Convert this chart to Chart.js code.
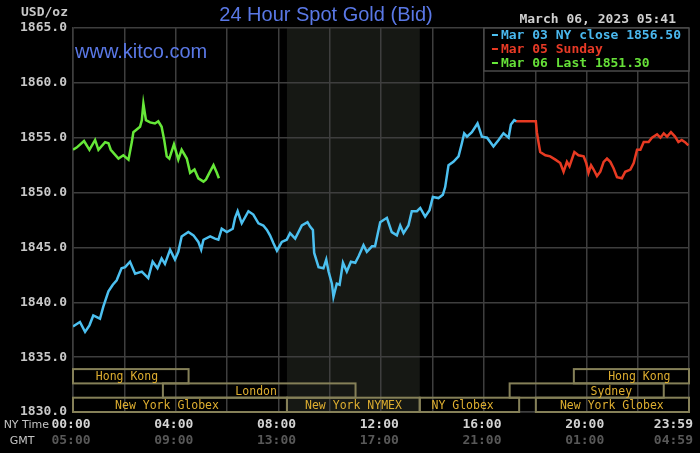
<!DOCTYPE html>
<html>
<head>
<meta charset="utf-8">
<script src="https://cdn.jsdelivr.net/npm/chart.js@4.4.0/dist/chart.umd.min.js"></script>
<style>
html, body { margin: 0; padding: 0; background: #000; }
canvas { display: block; }
</style>
</head>
<body>
<canvas id="chart" width="700" height="453"></canvas>
<script>
// all times are New York hours after midnight
const closeTimes = [0, 0.27, 0.47, 0.64, 0.79, 1.05, 1.18, 1.38, 1.55, 1.7, 1.89, 2.03, 2.22, 2.42, 2.68, 2.93, 3.1, 3.29, 3.45, 3.58, 3.78, 3.97, 4.1, 4.23, 4.49, 4.69, 4.88, 4.99, 5.08, 5.34, 5.53, 5.66, 5.79, 5.99, 6.22, 6.31, 6.41, 6.57, 6.83, 7.02, 7.22, 7.41, 7.55, 7.67, 7.8, 7.94, 8.13, 8.32, 8.45, 8.65, 8.91, 9.13, 9.23, 9.34, 9.39, 9.56, 9.75, 9.86, 9.95, 10.08, 10.14, 10.27, 10.38, 10.51, 10.66, 10.82, 10.99, 11.12, 11.31, 11.44, 11.64, 11.76, 11.96, 12.22, 12.41, 12.61, 12.74, 12.87, 13.06, 13.19, 13.39, 13.52, 13.71, 13.88, 14.01, 14.23, 14.4, 14.49, 14.62, 14.81, 15.01, 15.14, 15.23, 15.34, 15.53, 15.75, 15.92, 16.12, 16.37, 16.57, 16.76, 16.96, 17.05, 17.18, 17.26];
const closeValues = [1837.8, 1838.2, 1837.3, 1837.9, 1838.8, 1838.5, 1839.6, 1841.0, 1841.6, 1842.0, 1843.1, 1843.2, 1843.7, 1842.6, 1842.8, 1842.2, 1843.7, 1843.1, 1844.0, 1843.5, 1844.8, 1843.9, 1844.6, 1846.0, 1846.4, 1846.1, 1845.5, 1844.8, 1845.7, 1846.0, 1845.8, 1845.7, 1846.7, 1846.4, 1846.7, 1847.7, 1848.3, 1847.2, 1848.3, 1848.0, 1847.2, 1847.0, 1846.6, 1846.1, 1845.4, 1844.7, 1845.5, 1845.7, 1846.3, 1845.8, 1847.0, 1847.3, 1846.9, 1846.6, 1844.5, 1843.2, 1843.1, 1843.9, 1842.8, 1841.7, 1840.5, 1841.7, 1841.6, 1843.6, 1842.8, 1843.7, 1843.6, 1844.2, 1845.2, 1844.6, 1845.1, 1845.1, 1847.3, 1847.7, 1846.4, 1846.1, 1847.0, 1846.3, 1847.0, 1848.3, 1848.3, 1848.6, 1847.8, 1848.4, 1849.6, 1849.5, 1849.8, 1850.5, 1852.5, 1852.8, 1853.3, 1854.5, 1855.4, 1855.1, 1855.5, 1856.3, 1855.1, 1855.0, 1854.2, 1854.8, 1855.4, 1855.0, 1856.2, 1856.6, 1856.5];

const sundayTimes = [17.23, 18.02, 18.06, 18.13, 18.19, 18.39, 18.58, 18.78, 18.97, 19.1, 19.23, 19.33, 19.52, 19.68, 19.88, 19.98, 20.07, 20.17, 20.27, 20.4, 20.53, 20.66, 20.79, 20.92, 21.05, 21.18, 21.37, 21.5, 21.7, 21.83, 21.96, 22.09, 22.22, 22.41, 22.54, 22.74, 22.87, 23.0, 23.13, 23.28, 23.44, 23.57, 23.7, 23.83, 23.96];
const sundayValues = [1856.5, 1856.5, 1855.5, 1854.5, 1853.7, 1853.4, 1853.3, 1853.0, 1852.7, 1851.9, 1852.8, 1852.4, 1853.7, 1853.4, 1853.3, 1852.7, 1851.8, 1852.5, 1852.1, 1851.5, 1851.9, 1852.8, 1853.1, 1852.8, 1852.2, 1851.4, 1851.3, 1851.9, 1852.1, 1852.7, 1853.9, 1853.9, 1854.6, 1854.6, 1855.0, 1855.3, 1855.0, 1855.4, 1855.1, 1855.5, 1855.1, 1854.6, 1854.8, 1854.6, 1854.3];

const lastTimes = [0, 0.14, 0.43, 0.64, 0.86, 0.99, 1.25, 1.38, 1.47, 1.77, 1.96, 2.16, 2.29, 2.35, 2.61, 2.68, 2.74, 2.84, 3.0, 3.19, 3.32, 3.45, 3.55, 3.65, 3.75, 3.93, 4.1, 4.23, 4.43, 4.56, 4.73, 4.88, 5.08, 5.18, 5.31, 5.47, 5.6, 5.68];
const lastValues = [1853.9, 1854.1, 1854.7, 1853.9, 1854.8, 1853.9, 1854.6, 1854.5, 1853.9, 1853.1, 1853.4, 1853.0, 1854.6, 1855.5, 1856.0, 1856.6, 1858.1, 1856.6, 1856.4, 1856.3, 1856.5, 1856.0, 1854.8, 1853.3, 1853.1, 1854.4, 1853.0, 1853.9, 1853.1, 1851.8, 1852.1, 1851.3, 1851.0, 1851.2, 1851.8, 1852.5, 1851.8, 1851.3];

const seriesNames = ['Mar 03 NY close 1856.50', 'Mar 05 Sunday', 'Mar 06 Last 1851.30'];

const gridHours = [0, 2, 4, 6, 8, 10, 12, 14, 16, 18, 20, 22, 23.983];
const labelHours = [0, 4, 8, 12, 16, 20, 23.983];
const nyLabels = ['00:00', '04:00', '08:00', '12:00', '16:00', '20:00', '23:59'];
const gmtLabels = ['05:00', '09:00', '13:00', '17:00', '21:00', '01:00', '04:59'];

const sessionNames = ['Hong Kong', 'London', 'New York Globex', 'New York NYMEX', 'NY Globex', 'Hong Kong', 'Sydney', 'New York Globex'];
const sessionStart = [0, 3.5, 0, 8.33, 13.5, 19.5, 17, 18.02];
const sessionEnd = [4.5, 11, 8.33, 13.5, 17.37, 23.983, 23, 23.983];
const sessionRow = [0, 1, 2, 2, 2, 0, 1, 2];
const sessionLabelAt = [2.1, 7.13, 3.66, 10.92, 15.17, 22.05, 20.96, 20.98];

const pitStart = 8.33, pitEnd = 13.5;

const MONO = '"DejaVu Sans Mono", "Liberation Mono", monospace';

function pts(xs, ys) {
    return xs.map((x, i) => ({ x: x, y: ys[i] }));
}

const decor = {
    id: 'decor',
    beforeDraw(chart) {
        const ctx = chart.ctx, a = chart.chartArea, x = chart.scales.x;
        ctx.save();
        ctx.fillStyle = '#000';
        ctx.fillRect(0, 0, chart.width, chart.height);
        ctx.fillStyle = '#161814';
        const x1 = x.getPixelForValue(pitStart), x2 = x.getPixelForValue(pitEnd);
        ctx.fillRect(x1, a.top, x2 - x1, a.bottom - a.top);
        ctx.restore();
    },
    afterDatasetsDraw(chart) {
        const ctx = chart.ctx, a = chart.chartArea, x = chart.scales.x;
        ctx.save();
        // trading sessions
        const rowH = 14.3;
        const top0 = a.bottom - rowH * 3;
        ctx.lineWidth = 2;
        ctx.strokeStyle = '#858058';
        ctx.font = '11.5px ' + MONO;
        ctx.textAlign = 'center';
        ctx.textBaseline = 'middle';
        for (let i = 0; i < sessionNames.length; i++) {
            const l = x.getPixelForValue(sessionStart[i]);
            const r = x.getPixelForValue(sessionEnd[i]);
            const t = top0 + sessionRow[i] * rowH;
            ctx.strokeRect(l, t, r - l, rowH);
        }
        ctx.fillStyle = '#deae30';
        for (let i = 0; i < sessionNames.length; i++) {
            const t = top0 + sessionRow[i] * rowH;
            ctx.fillText(sessionNames[i], x.getPixelForValue(sessionLabelAt[i]), t + rowH / 2 + 1);
        }

        // legend box
        const lx = x.getPixelForValue(16);
        ctx.fillStyle = '#000';
        ctx.fillRect(lx, a.top, a.right - lx, 43);
        ctx.strokeStyle = '#4a4a4a';
        ctx.lineWidth = 1.5;
        ctx.strokeRect(lx, a.top, a.right - lx, 43);
        ctx.font = 'bold 13px ' + MONO;
        ctx.textAlign = 'left';
        chart.data.datasets.forEach((ds, i) => {
            const y = a.top + 7 + i * 14;
            ctx.fillStyle = ds.borderColor;
            ctx.fillRect(lx + 8, y - 1, 6, 2);
            ctx.fillStyle = ds.legendColor;
            ctx.fillText(ds.label, lx + 17, y + 1);
        });
        ctx.restore();
    },
    afterDraw(chart) {
        const ctx = chart.ctx, x = chart.scales.x;
        ctx.save();
        ctx.textBaseline = 'middle';
        // time labels, NY and GMT
        ctx.font = 'bold 13px ' + MONO;
        ctx.textAlign = 'center';
        for (let i = 0; i < labelHours.length; i++) {
            let px = x.getPixelForValue(labelHours[i]);
            const w = ctx.measureText(nyLabels[i]).width;
            if (px + w / 2 > chart.width - 5) px = chart.width - 5 - w / 2;
            ctx.fillStyle = '#d4d4d4';
            ctx.fillText(nyLabels[i], px - 2, 425);
            ctx.fillStyle = '#585858';
            ctx.fillText(gmtLabels[i], px - 2, 441);
        }
        ctx.font = '11px "DejaVu Sans", sans-serif';
        ctx.fillStyle = '#c4c4c4';
        ctx.textAlign = 'right';
        ctx.fillText('NY Time', 49, 425);
        ctx.textAlign = 'center';
        ctx.fillText('GMT', 22, 441);

        ctx.font = 'bold 13px ' + MONO;
        ctx.fillStyle = '#c8c8c8';
        ctx.textAlign = 'right';
        ctx.fillText('USD/oz', 68, 13);
        ctx.fillStyle = '#d0d0d0';
        ctx.fillText('March 06, 2023 05:41', 676, 20);

        ctx.font = '20px "Liberation Sans", Arial, sans-serif';
        ctx.fillStyle = '#5a78e6';
        ctx.textAlign = 'center';
        ctx.fillText('24 Hour Spot Gold (Bid)', 326, 15);
        ctx.textAlign = 'left';
        ctx.fillText('www.kitco.com', 75, 52);
        ctx.restore();
    }
};

const ctx = document.getElementById('chart').getContext('2d');
const myChart = new Chart(ctx, {
    type: 'line',
    data: {
        datasets: [
            { label: seriesNames[0], data: pts(closeTimes, closeValues), borderColor: '#4cc0f0', legendColor: '#4ab8ee' },
            { label: seriesNames[1], data: pts(sundayTimes, sundayValues), borderColor: '#e83a22', legendColor: '#e83a26' },
            { label: seriesNames[2], data: pts(lastTimes, lastValues), borderColor: '#66e838', legendColor: '#66e038' }
        ]
    },
    options: {
        responsive: false,
        devicePixelRatio: 1,
        animation: false,
        layout: { padding: { left: 0, top: 28, right: 11, bottom: 0 } },
        elements: {
            line: { borderWidth: 2.5, tension: 0 },
            point: { radius: 0 }
        },
        plugins: {
            legend: { display: false },
            tooltip: { enabled: false }
        },
        scales: {
            x: {
                type: 'linear',
                min: 0,
                max: 23.983,
                afterBuildTicks: s => { s.ticks = gridHours.map(v => ({ value: v })); },
                afterFit: s => { s.height = 41; },
                ticks: { display: false },
                grid: { color: '#3e3e3e', lineWidth: 1.5, drawTicks: false },
                border: { color: '#3e3e3e', width: 1.5 }
            },
            y: {
                min: 1830,
                max: 1865,
                afterFit: s => { s.width = 73; },
                ticks: {
                    stepSize: 5,
                    padding: 6,
                    color: '#c8c8c8',
                    font: { family: MONO, size: 13, weight: 'bold' },
                    callback: v => v.toFixed(1)
                },
                grid: { color: '#3e3e3e', lineWidth: 1.5, drawTicks: false },
                border: { color: '#3e3e3e', width: 1.5 }
            }
        }
    },
    plugins: [decor]
});
</script>
</body>
</html>
